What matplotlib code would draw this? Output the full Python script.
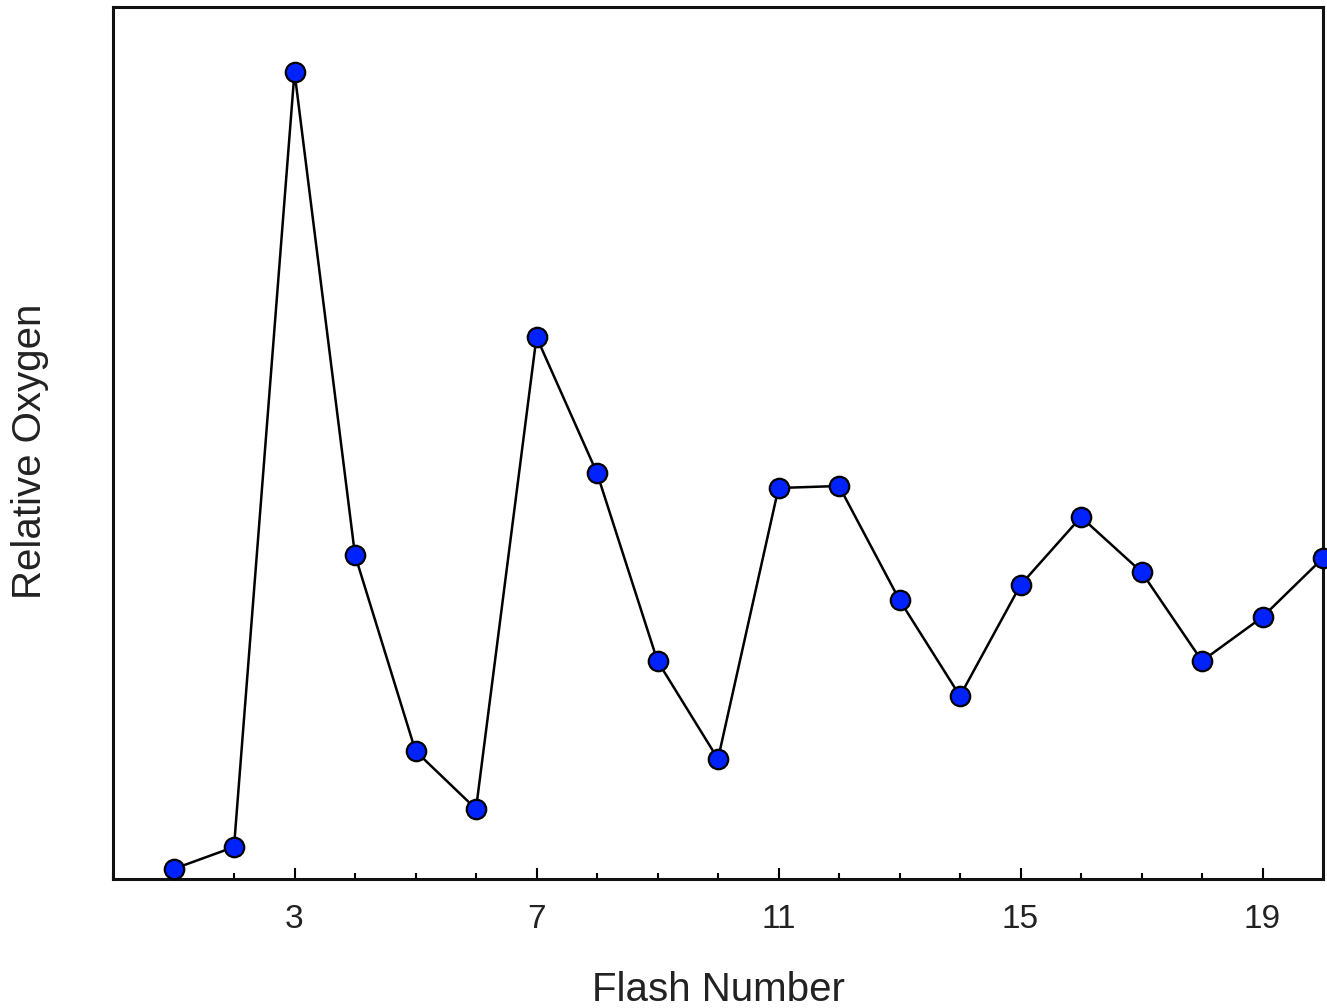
import matplotlib
matplotlib.use("Agg")
import matplotlib.pyplot as plt
from matplotlib.ticker import FixedLocator, MultipleLocator

flash = list(range(1, 21))
oxygen = [1.0, 3.2, 80.7, 32.4, 12.8, 7.0, 54.2, 40.6, 21.8, 12.0,
          39.1, 39.3, 27.9, 18.3, 29.4, 36.2, 30.7, 21.8, 26.2, 32.1]
major_ticks = [3, 7, 11, 15, 19]

plt.rcParams['font.family'] = ['Liberation Sans', 'DejaVu Sans']

fig = plt.figure(figsize=(13.27, 10.08), dpi=100)
ax = fig.add_axes([113/1327, 1 - 879/1008, (1323-113)/1327, (879-7)/1008])

ax.plot(flash, oxygen, color='black', linewidth=1.8, marker='o',
        markersize=14, markerfacecolor='#0022ff', markeredgecolor='black',
        markeredgewidth=1.6, clip_on=False, zorder=5)

ax.set_xlim(0, 20)
ax.set_ylim(0, 87.2)

ax.xaxis.set_major_locator(FixedLocator(major_ticks))
ax.xaxis.set_minor_locator(MultipleLocator(1))
ax.set_yticks([])
ax.tick_params(axis='x', which='major', direction='in', length=8, width=1.5,
               labelsize=24, pad=18, labelcolor='#222222', top=False)
ax.tick_params(axis='x', which='minor', direction='in', length=4, width=1.5, top=False)

for s in ax.spines.values():
    s.set_linewidth(2.2)
    s.set_color('#111111')

ax.set_xlabel('Flash Number', fontsize=29, color='#222222', va='center')
ax.xaxis.set_label_coords(0.50, (879-990)/872)
ax.set_ylabel('Relative Oxygen', fontsize=29, color='#222222', va='center')
ax.yaxis.set_label_coords((30-113)/1210, 0.49)

fig.savefig('out.png', dpi=100)
